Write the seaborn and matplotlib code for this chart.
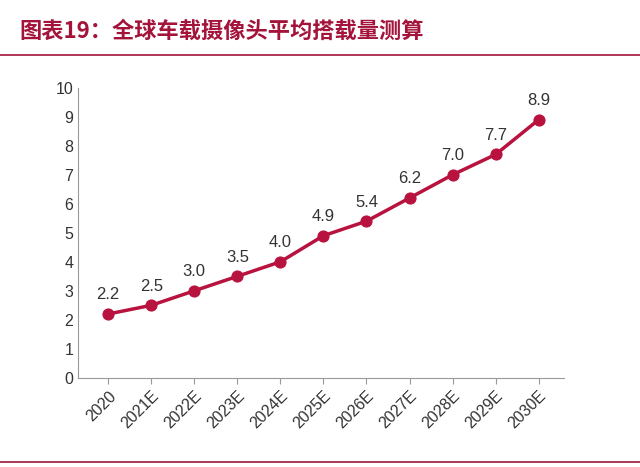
import matplotlib
matplotlib.use("Agg")
import matplotlib.pyplot as plt
import seaborn as sb
import pandas as pd

years = ["2020", "2021E", "2022E", "2023E", "2024E", "2025E", "2026E", "2027E", "2028E", "2029E", "2030E"]
cameras = [2.2, 2.5, 3.0, 3.5, 4.0, 4.9, 5.4, 6.2, 7.0, 7.7, 8.9]
title = "图表19：全球车载摄像头平均搭载量测算"

df = pd.DataFrame({"year": years, "val": cameras, "x": range(len(years))})
red = "#B8123E"
plt.rcParams["font.family"] = "Liberation Sans"

fig = plt.figure(figsize=(6.4, 4.67), dpi=100)
ax = fig.add_axes([0.122, 0.191, 0.76, 0.621])
sb.lineplot(data=df, x="x", y="val", ax=ax, color=red, linewidth=2.5,
            marker="o", markersize=8, markeredgecolor=red)
for i, v in enumerate(cameras):
    ax.text(i, v + 0.4, f"{v:.1f}", ha="center", va="bottom", fontsize=12, color="#333333")

ax.set_xlim(-0.7, 10.6)
ax.set_ylim(0, 10)
ax.set_yticks(range(0, 11))
ax.set_xticks(range(len(years)))
ax.set_xticklabels(years, rotation=45, ha="right", rotation_mode="anchor")
ax.tick_params(axis="both", labelsize=11.5, colors="#333333", length=0)
ax.tick_params(axis="x", length=4, color="#999999", direction="out")
for s in ["top", "right"]:
    ax.spines[s].set_visible(False)
for s in ["left", "bottom"]:
    ax.spines[s].set_color("#999999")
ax.set_xlabel("")
ax.set_ylabel("")

fig.text(0.03, 0.92, title, fontsize=16, fontweight="bold", style="italic",
         color="#A3133A", family="Noto Sans CJK SC")
fig.add_artist(plt.Line2D([0.0, 1.0], [0.883, 0.883], color="#A3133A", linewidth=1.2))
fig.add_artist(plt.Line2D([0.0, 1.0], [0.01, 0.01], color="#A3133A", linewidth=1.2))

fig.savefig("out.png", dpi=100)
